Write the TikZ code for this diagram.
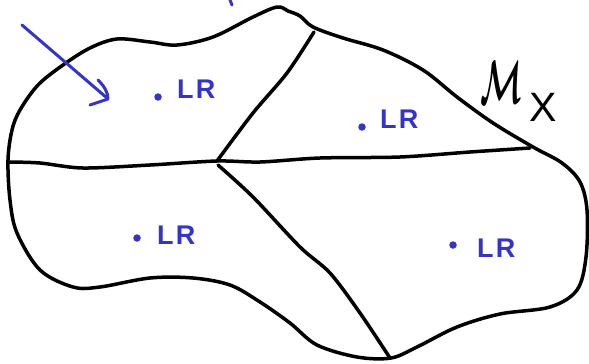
\documentclass[tikz,border=0pt]{standalone}
\usepackage{fontspec}
\usepackage{graphicx}
\setsansfont{Liberation Sans}
\definecolor{ink}{HTML}{3434C8}
\tikzset{
  stroke/.style={line width=3.5pt, line cap=round, line join=round, black},
  bluestroke/.style={line width=3pt, line cap=round, line join=round, ink},
  lr/.style={text=ink, font=\sffamily\bfseries\fontsize{27}{27}\selectfont\addfontfeatures{LetterSpace=8}, inner sep=0pt, anchor=south west},
  dotmark/.style={circle, fill=ink, inner sep=0pt, minimum size=7.5pt},
}
\begin{document}
\begin{tikzpicture}[x=1pt,y=-1pt]
\useasboundingbox (0,0) rectangle (589,364);
% outline
\draw[stroke] plot[smooth cycle, tension=0.55] coordinates {
 (8,160) (12,130) (20,110) (38,85) (63,65) (90,48) (117,39) (150,42) (177,45)
 (213,37) (253,17) (277,7) (288,11) (300,16) (313,27) (343,38) (383,50)
 (423,70) (457,97) (493,123) (533,147) (562,163) (580,182) (587,210)
 (586,257) (577,290) (550,307) (500,314) (457,327) (417,347) (391,358)
 (357,357) (317,345) (290,323) (260,302) (230,285) (193,278) (150,278)
 (100,287) (73,287) (40,270) (17,233) (10,200)};
\coordinate (J) at (217,161);
% horizontal divider
\draw[stroke] plot[smooth, tension=0.5] coordinates {
 (9,162) (40,163) (83,168) (150,165) (J) (260,162) (320,158) (400,157) (470,152) (530,148)};
% up divider
\draw[stroke] plot[smooth, tension=0.5] coordinates {(J) (253,113) (287,73) (314,32)};
% down divider
\draw[stroke] plot[smooth, tension=0.5] coordinates {
 (218,165) (253,197) (300,247) (330,273) (360,313) (390,358)};
% blue arrow
\coordinate (As) at (22,25);
\coordinate (Ae) at (107,98);
\draw[bluestroke] (As) -- (Ae);
\draw[bluestroke] (98,80) .. controls (104,86) and (108,92) .. (108,99) -- (90,105);
% small blue mark at top
\draw[bluestroke] (230,0) -- (232,5);
% labels
\node[dotmark] (d1) at (158,97) {};
\node[lr] (l1) at (177,99) {LR};
\node[dotmark] (d2) at (362,127) {};
\node[lr] (l2) at (380,129) {LR};
\node[dotmark] (d3) at (137,238) {};
\node[lr] (l3) at (157,245) {LR};
\node[dotmark] (d4) at (453,245) {};
\node[lr] (l4) at (477,258) {LR};
% M_X
\node[inner sep=0pt, anchor=south west] (M) at (480,104) {\resizebox{42pt}{42pt}{\boldmath$\mathcal{M}$}};
\node[inner sep=0pt, anchor=south west, font=\sffamily\fontsize{41}{41}\selectfont] (X) at (529,122) {X};
\end{tikzpicture}
\end{document}
